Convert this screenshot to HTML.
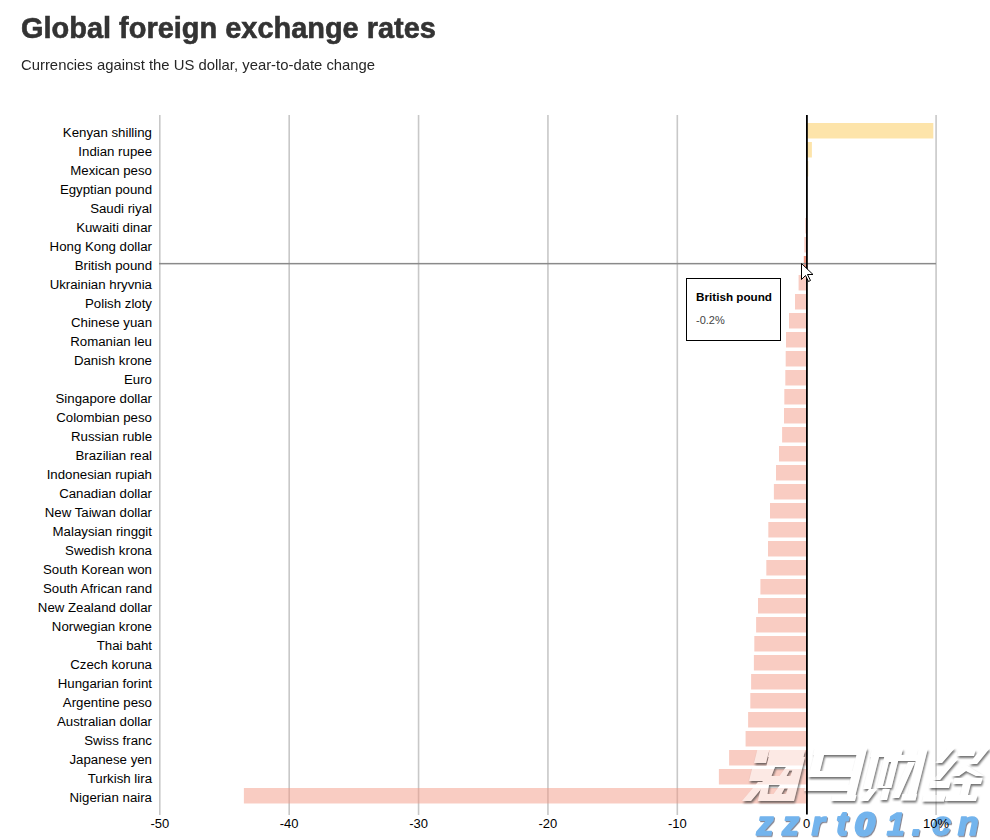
<!DOCTYPE html>
<html><head><meta charset="utf-8"><style>
html,body{margin:0;padding:0;background:#fff;width:990px;height:840px;overflow:hidden;position:relative;font-family:"Liberation Sans",sans-serif}
.title{position:absolute;left:21px;top:10px;font-size:29.5px;font-weight:bold;color:#333;-webkit-text-stroke:0.6px #333;white-space:nowrap;line-height:36px;transform-origin:0 0;transform:scaleX(0.981)}
.sub{position:absolute;left:21px;top:56px;font-size:15px;color:#262626;white-space:nowrap;line-height:18px;transform-origin:0 0;transform:scaleX(0.99)}
.tip{position:absolute;left:686px;top:278px;width:93px;height:61px;border:1px solid #000;background:#fff}
.tip b{position:absolute;left:9px;top:11px;font-size:11.7px;color:#000;white-space:nowrap}
.tip span{position:absolute;left:9px;top:35px;font-size:11px;color:#444;white-space:nowrap}
</style></head><body>
<div class="title">Global foreign exchange rates</div>
<div class="sub">Currencies against the US dollar, year-to-date change</div>
<svg width="990" height="840" style="position:absolute;left:0;top:0">
<g><rect x="159.00" y="115" width="1.6" height="700" fill="#c8c8c8"/><rect x="288.38" y="115" width="1.6" height="700" fill="#c8c8c8"/><rect x="417.76" y="115" width="1.6" height="700" fill="#c8c8c8"/><rect x="547.14" y="115" width="1.6" height="700" fill="#c8c8c8"/><rect x="676.52" y="115" width="1.6" height="700" fill="#c8c8c8"/><rect x="935.28" y="115" width="1.6" height="700" fill="#c8c8c8"/></g>
<g><rect x="806.90" y="123" width="126.40" height="15.5" fill="rgba(251,200,82,0.49)"/><rect x="806.90" y="142" width="5.00" height="15.5" fill="rgba(251,200,82,0.49)"/><rect x="806.90" y="161" width="1.40" height="15.5" fill="rgba(251,200,82,0.49)"/><rect x="806.90" y="180" width="0.10" height="15.5" fill="rgba(251,200,82,0.49)"/><rect x="806.90" y="199" width="0.10" height="15.5" fill="rgba(251,200,82,0.49)"/><rect x="805.30" y="218" width="1.60" height="15.5" fill="rgba(243,151,131,0.49)"/><rect x="804.30" y="237" width="2.60" height="15.5" fill="rgba(243,151,131,0.49)"/><rect x="803.80" y="256" width="3.10" height="15.5" fill="#ef9985"/><rect x="798.60" y="275" width="8.30" height="15.5" fill="rgba(243,151,131,0.49)"/><rect x="795.00" y="294" width="11.90" height="15.5" fill="rgba(243,151,131,0.49)"/><rect x="789.00" y="313" width="17.90" height="15.5" fill="rgba(243,151,131,0.49)"/><rect x="786.00" y="332" width="20.90" height="15.5" fill="rgba(243,151,131,0.49)"/><rect x="785.70" y="351" width="21.20" height="15.5" fill="rgba(243,151,131,0.49)"/><rect x="785.30" y="370" width="21.60" height="15.5" fill="rgba(243,151,131,0.49)"/><rect x="784.30" y="389" width="22.60" height="15.5" fill="rgba(243,151,131,0.49)"/><rect x="784.00" y="408" width="22.90" height="15.5" fill="rgba(243,151,131,0.49)"/><rect x="782.10" y="427" width="24.80" height="15.5" fill="rgba(243,151,131,0.49)"/><rect x="779.00" y="446" width="27.90" height="15.5" fill="rgba(243,151,131,0.49)"/><rect x="776.00" y="465" width="30.90" height="15.5" fill="rgba(243,151,131,0.49)"/><rect x="773.90" y="484" width="33.00" height="15.5" fill="rgba(243,151,131,0.49)"/><rect x="770.00" y="503" width="36.90" height="15.5" fill="rgba(243,151,131,0.49)"/><rect x="768.30" y="522" width="38.60" height="15.5" fill="rgba(243,151,131,0.49)"/><rect x="768.00" y="541" width="38.90" height="15.5" fill="rgba(243,151,131,0.49)"/><rect x="766.30" y="560" width="40.60" height="15.5" fill="rgba(243,151,131,0.49)"/><rect x="760.40" y="579" width="46.50" height="15.5" fill="rgba(243,151,131,0.49)"/><rect x="758.00" y="598" width="48.90" height="15.5" fill="rgba(243,151,131,0.49)"/><rect x="756.10" y="617" width="50.80" height="15.5" fill="rgba(243,151,131,0.49)"/><rect x="754.30" y="636" width="52.60" height="15.5" fill="rgba(243,151,131,0.49)"/><rect x="753.90" y="655" width="53.00" height="15.5" fill="rgba(243,151,131,0.49)"/><rect x="751.10" y="674" width="55.80" height="15.5" fill="rgba(243,151,131,0.49)"/><rect x="750.30" y="693" width="56.60" height="15.5" fill="rgba(243,151,131,0.49)"/><rect x="748.10" y="712" width="58.80" height="15.5" fill="rgba(243,151,131,0.49)"/><rect x="745.60" y="731" width="61.30" height="15.5" fill="rgba(243,151,131,0.49)"/><rect x="729.10" y="750" width="77.80" height="15.5" fill="rgba(243,151,131,0.49)"/><rect x="718.90" y="769" width="88.00" height="15.5" fill="rgba(243,151,131,0.49)"/><rect x="243.90" y="788" width="563.00" height="15.5" fill="rgba(243,151,131,0.49)"/></g>
<rect x="159" y="262.9" width="777" height="1.5" fill="#8a8a8a"/>
<g font-family="Liberation Sans" font-size="13.25" fill="#000" text-anchor="end"><text x="152" y="137">Kenyan shilling</text><text x="152" y="156">Indian rupee</text><text x="152" y="175">Mexican peso</text><text x="152" y="194">Egyptian pound</text><text x="152" y="213">Saudi riyal</text><text x="152" y="232">Kuwaiti dinar</text><text x="152" y="251">Hong Kong dollar</text><text x="152" y="270">British pound</text><text x="152" y="289">Ukrainian hryvnia</text><text x="152" y="308">Polish zloty</text><text x="152" y="327">Chinese yuan</text><text x="152" y="346">Romanian leu</text><text x="152" y="365">Danish krone</text><text x="152" y="384">Euro</text><text x="152" y="403">Singapore dollar</text><text x="152" y="422">Colombian peso</text><text x="152" y="441">Russian ruble</text><text x="152" y="460">Brazilian real</text><text x="152" y="479">Indonesian rupiah</text><text x="152" y="498">Canadian dollar</text><text x="152" y="517">New Taiwan dollar</text><text x="152" y="536">Malaysian ringgit</text><text x="152" y="555">Swedish krona</text><text x="152" y="574">South Korean won</text><text x="152" y="593">South African rand</text><text x="152" y="612">New Zealand dollar</text><text x="152" y="631">Norwegian krone</text><text x="152" y="650">Thai baht</text><text x="152" y="669">Czech koruna</text><text x="152" y="688">Hungarian forint</text><text x="152" y="707">Argentine peso</text><text x="152" y="726">Australian dollar</text><text x="152" y="745">Swiss franc</text><text x="152" y="764">Japanese yen</text><text x="152" y="783">Turkish lira</text><text x="152" y="802">Nigerian naira</text></g>
<defs><filter id="wmf" x="-10%" y="-20%" width="120%" height="140%" color-interpolation-filters="sRGB">
<feGaussianBlur in="SourceAlpha" stdDeviation="1" result="b"/>
<feOffset in="b" dx="0.6" dy="1.6" result="o"/>
<feComposite in="o" in2="SourceAlpha" operator="out" result="sh"/>
<feFlood flood-color="#404040" flood-opacity="0.75"/>
<feComposite in2="sh" operator="in" result="shc"/>
<feFlood flood-color="#fff" flood-opacity="0.56"/>
<feComposite in2="SourceAlpha" operator="in" result="wc"/>
<feMerge><feMergeNode in="shc"/><feMergeNode in="wc"/></feMerge>
</filter>
<filter id="bls" x="-10%" y="-20%" width="120%" height="140%">
<feDropShadow dx="1" dy="1.2" stdDeviation="0.5" flood-color="#556" flood-opacity="0.7"/>
</filter></defs>
<g filter="url(#wmf)" fill="#000"><path d="M757.25,750L769.25,750L766.00,763L754.00,763ZM752.75,766L769.75,766L766.00,781L749.00,781ZM758.00,782.00L767.00,782.00L751.00,801.00L742.00,801.00ZM769.75,750L805.25,750L803.50,757L768.00,757Z"/><path fill-rule="evenodd" d="M768.75,757L805.00,757L794.00,801L757.75,801ZM775.00,767.00L786.00,767.00L779.50,776.00L771.50,776.00ZM789.50,770.50L792.30,770.50L790.50,776.00L786.50,776.00ZM769.00,785.00L780.00,785.00L773.50,794.00L767.50,794.00ZM784.50,788.50L787.80,788.50L786.00,794.00L781.50,794.00Z"/><path d="M814.75,748L863.75,748L862.00,755L813.00,755ZM814.00,755L824.00,755L820.00,771L810.00,771ZM809.50,771L859.50,771L858.00,777L808.00,777ZM805.50,785L851.50,785L850.00,791L804.00,791ZM858.25,748L867.25,748L855.00,797L846.00,797ZM832.50,795L856.50,795L855.00,801L831.00,801Z"/><path d="M873.00,749L881.00,749L871.00,789L863.00,789ZM872.00,749L903.00,749L901.00,757L870.00,757ZM869.00,789.00L877.00,789.00L868.00,801.00L860.00,801.00ZM882.75,789L889.75,789L887.00,800L880.00,800ZM898.50,755L918.50,755L917.00,761L897.00,761ZM918.75,749L927.75,749L915.50,798L906.50,798ZM902.62,794L917.12,794L915.50,800.5L901.00,800.5ZM908.00,762.00L915.00,762.00L899.00,798.00L892.00,798.00Z"/><path fill-rule="evenodd" d="M886.25,749L901.15,749L891.40,788L876.50,788ZM888.90,762L891.20,762L885.20,786L882.90,786Z"/><path d="M948.00,748.00L955.00,748.00L942.00,763.00L935.00,763.00ZM951.00,759.00L958.00,759.00L940.00,780.00L933.00,780.00ZM930.75,781L950.75,781L949.00,788L929.00,788ZM923.62,795L945.62,795L944.00,801.5L922.00,801.5ZM958.50,750L975.50,750L974.00,756L957.00,756ZM982.00,748.00L990.00,748.00L977.00,764.00L969.00,764.00ZM951.00,776.00L966.00,765.00L984.00,776.00L976.00,776.00L966.00,771.00L959.00,776.00ZM954.50,778L982.50,778L981.00,784L953.00,784ZM962.75,784L970.75,784L968.00,795L960.00,795ZM946.50,795L977.50,795L976.00,801L945.00,801Z"/></g>
<rect x="806" y="115" width="1.8" height="699.5" fill="#000"/>
<g filter="url(#bls)" font-family="Liberation Sans" font-weight="bold" font-style="italic" fill="#73b4ed" stroke="#73b4ed" stroke-width="1.6" stroke-linejoin="round"><text x="764.9" y="835" font-size="34" text-anchor="middle">z</text><text x="790.5" y="835" font-size="34" text-anchor="middle">z</text><text x="818.2" y="835" font-size="34" text-anchor="middle">r</text><text x="841.8" y="835" font-size="32.5" text-anchor="middle" stroke-width="2.2">t</text><text x="864.8" y="835" font-size="32" text-anchor="middle" stroke-width="2.8" transform="translate(864.8,835) scale(1.12,1) translate(-864.8,-835)">0</text><text x="895.7" y="835" font-size="32" text-anchor="middle">1</text><text x="916.8" y="835" font-size="34" text-anchor="middle" stroke-width="2.0">.</text><text x="941.5" y="835" font-size="34" text-anchor="middle">c</text><text x="968.1" y="835" font-size="34" text-anchor="middle">n</text></g>
<g font-family="Liberation Sans" font-size="13" fill="#000" text-anchor="middle"><text x="159.80" y="828">-50</text><text x="289.18" y="828">-40</text><text x="418.56" y="828">-30</text><text x="547.94" y="828">-20</text><text x="677.32" y="828">-10</text><text x="806.70" y="828">0</text><text x="936.08" y="828">10%</text></g>
<path d="M801.5,263.5L801.5,279.5L805.5,275.5L808.5,281.5L810.5,280.5L807.5,274.5L813,274.5Z" fill="#fff" stroke="#000" stroke-width="1" stroke-linejoin="miter"/>
</svg>
<div class="tip"><b>British pound</b><span>-0.2%</span></div>
</body></html>
